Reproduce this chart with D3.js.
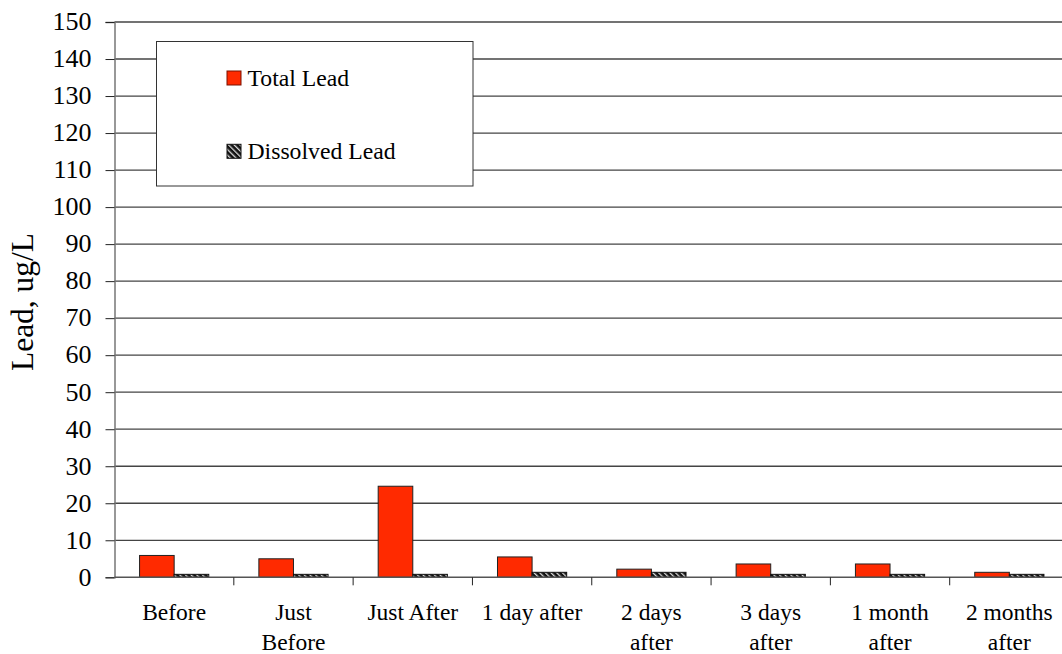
<!DOCTYPE html>
<html><head><meta charset="utf-8">
<script src="https://cdn.jsdelivr.net/npm/d3@7"></script>
<style>body{margin:0;background:#fff;overflow:hidden}svg{display:block}
text{font-family:'Liberation Serif','Times New Roman',serif;}</style>
</head><body>
<script>
const categories = [["Before"],["Just","Before"],["Just After"],["1 day after"],["2 days","after"],["3 days","after"],["1 month","after"],["2 months","after"]];
const totalLead = [5.9, 5.0, 24.6, 5.5, 2.2, 3.6, 3.6, 1.35];
const dissolvedLead = [0.8, 0.8, 0.8, 1.35, 1.35, 0.8, 0.8, 0.8];
const yTicks = d3.range(0, 151, 10);
const seriesNames = ["Total Lead", "Dissolved Lead"];

const W = 1062, H = 654;
const FONT = "'Liberation Serif','Times New Roman',serif";
const svg = d3.select("body").append("svg").attr("width", W).attr("height", H);
const defs = svg.append("defs");
const pat = defs.append("pattern").attr("id","hatch").attr("patternUnits","userSpaceOnUse")
  .attr("width",4).attr("height",4).attr("patternTransform","rotate(-45)");
pat.append("rect").attr("width",4).attr("height",4).attr("fill","#111");
pat.append("rect").attr("x",0).attr("width",1.3).attr("height",4).attr("fill","#ddd");

const pLeft = 114.5, pRight = 1069, pTop = 22, pBottom = 577.3;
const x = d3.scaleBand().domain(d3.range(categories.length)).range([pLeft, pRight]);
const y = d3.scaleLinear().domain([0,150]).range([pBottom, pTop]);
const bw = x.bandwidth() * 0.29;
const off = (x.bandwidth() - 2*bw)/2;

// gridlines
svg.append("g").selectAll("line").data(yTicks.filter(d=>d>0)).join("line")
  .attr("x1", pLeft).attr("x2", W).attr("y1", d=>y(d)).attr("y2", d=>y(d))
  .attr("stroke","#444").attr("stroke-width",1.3);

// y axis
const ya = svg.append("g").attr("transform",`translate(${pLeft},0)`)
  .call(d3.axisLeft(y).tickValues(yTicks).tickSize(9).tickPadding(14).tickFormat(d3.format("d")));
ya.attr("font-family", FONT).attr("font-size", 26);
ya.select(".domain").attr("stroke","#777").attr("stroke-width",1.5);
ya.selectAll(".tick line").attr("stroke","#222");
ya.selectAll(".tick text").style("font-family",FONT).style("font-size","26px").attr("fill","#000").attr("dy","0.3em");

// bars
const g = svg.append("g");
g.selectAll(".t").data(totalLead).join("rect")
  .attr("x",(d,i)=>x(i)+off).attr("width",bw)
  .attr("y",d=>y(d)).attr("height",d=>y(0)-y(d))
  .attr("fill","#FF2A00").attr("stroke","#222").attr("stroke-width",1);
g.selectAll(".d").data(dissolvedLead).join("rect")
  .attr("x",(d,i)=>x(i)+off+bw).attr("width",bw)
  .attr("y",d=>y(d)).attr("height",d=>y(0)-y(d))
  .attr("fill","url(#hatch)").attr("stroke","#111").attr("stroke-width",1);

// x axis
svg.append("line").attr("x1",pLeft).attr("x2",W).attr("y1",pBottom).attr("y2",pBottom)
  .attr("stroke","#555").attr("stroke-width",1.5);
svg.append("g").selectAll("line").data(d3.range(1,categories.length)).join("line")
  .attr("x1",i=>x(i)).attr("x2",i=>x(i)).attr("y1",pBottom).attr("y2",pBottom+8)
  .attr("stroke","#222");
const xl = svg.append("g").selectAll("text").data(categories).join("text")
  .attr("x",(d,i)=>x(i)+x.bandwidth()/2).attr("y",620)
  .attr("text-anchor","middle").style("font-size","23.5px");
xl.selectAll("tspan").data(d=>d).join("tspan")
  .attr("x",function(){return this.parentNode.getAttribute("x");})
  .attr("dy",(d,i)=>i===0?0:30).text(d=>d);

// y title
svg.append("text").attr("transform","translate(33,302) rotate(-90)")
  .attr("text-anchor","middle").style("font-size","31.5px")
  .text("Lead, ug/L");

// legend
const lg = svg.append("g");
lg.append("rect").attr("x",156.5).attr("y",41.5).attr("width",316.5).attr("height",144.5)
  .attr("fill","#fff").attr("stroke","#333").attr("stroke-width",1);
const items = lg.selectAll("g").data(seriesNames).join("g")
  .attr("transform",(d,i)=>`translate(227,${71+i*73.3})`);
items.append("rect").attr("width",14).attr("height",14)
  .attr("fill",(d,i)=>i===0?"#FF2A00":"url(#hatch)").attr("stroke",(d,i)=>i===0?"#7a1000":"#111");
items.append("text").attr("x",20.5).attr("y",14.7)
  .style("font-size","23.7px").text(d=>d);
</script>
</body></html>
